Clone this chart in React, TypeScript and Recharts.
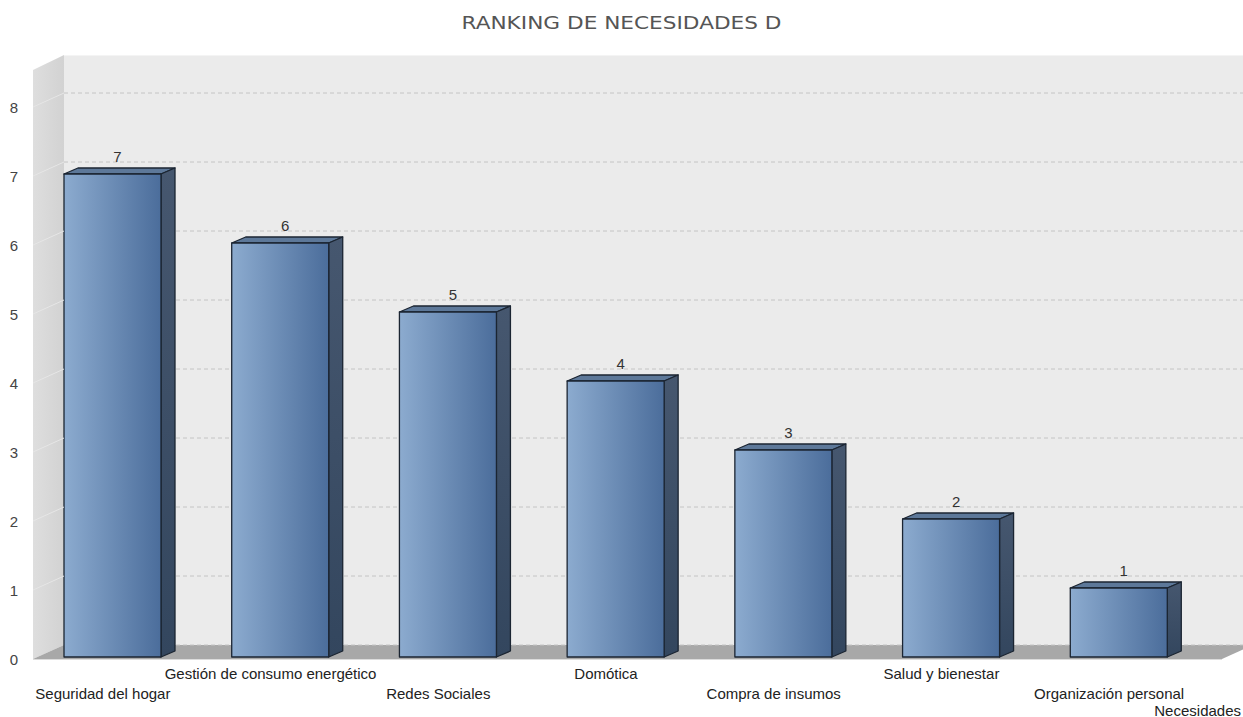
import { BarChart, Bar, XAxis, YAxis, CartesianGrid, LabelList } from "recharts";

const categories = [
  "Seguridad del hogar",
  "Gestión de consumo energético",
  "Redes Sociales",
  "Domótica",
  "Compra de insumos",
  "Salud y bienestar",
  "Organización personal",
];
const ranking = [7, 6, 5, 4, 3, 2, 1];
const yTicks = [0, 1, 2, 3, 4, 5, 6, 7, 8];

const data = categories.map((name, i) => ({ name, value: ranking[i] }));

// layout
const W = 1243;
const H = 717;
const PLOT_LEFT = 29;
const PLOT_RIGHT = 1203;
const PLOT_TOP = 105;
const PLOT_BOTTOM = 657;
const X_AXIS_H = 40;
const FRONT_X = 33; // front edge of the left wall / floor
const DX = 31; // depth of the walls
const DY = 14;
const BAR_DX = 14; // depth of each bar
const BAR_DY = 6;
const FONT = "'Liberation Sans', Arial, sans-serif";

function Walls() {
  const floorFront = PLOT_BOTTOM + 2;
  const floorBack = floorFront - DY;
  const wallTopFront = 70;
  const wallTopBack = wallTopFront - 15;
  const backX = FRONT_X + DX;
  return (
    <svg width={W} height={H} style={{ position: "absolute", left: 0, top: 0 }}>
      <defs>
        <linearGradient id="sideWall" x1="0" y1="0" x2="1" y2="0">
          <stop offset="0%" stopColor="#dedede" />
          <stop offset="100%" stopColor="#d2d2d2" />
        </linearGradient>
      </defs>
      <rect x={backX} y={wallTopBack} width={W - backX} height={floorBack - wallTopBack} fill="#ebebeb" />
      <line x1={backX} x2={W} y1={wallTopBack + 0.5} y2={wallTopBack + 0.5} stroke="#f4f4f4" />
      <polygon
        points={`${FRONT_X},${wallTopFront} ${backX},${wallTopBack} ${backX},${floorBack} ${FRONT_X},${floorFront}`}
        fill="url(#sideWall)"
      />
      <polygon
        points={`${FRONT_X},${floorFront} ${backX},${floorBack} ${W + 10},${floorBack} ${1222},${floorFront}`}
        fill="#a8a8a8"
      />
      <line x1={FRONT_X} x2={1222} y1={floorFront + 0.5} y2={floorFront + 0.5} stroke="#dcdcdc" />
    </svg>
  );
}

function Bar3D(props: any) {
  const { x, y, width, height } = props;
  if (!height) return null;
  const r = x + width;
  const b = y + height;
  return (
    <g stroke="#1b2532" strokeWidth={1.3} strokeLinejoin="round">
      <polygon
        points={`${x},${y} ${x + BAR_DX},${y - BAR_DY} ${r + BAR_DX},${y - BAR_DY} ${r},${y}`}
        fill="#5d7899"
      />
      <polygon
        points={`${r},${y} ${r + BAR_DX},${y - BAR_DY} ${r + BAR_DX},${b - BAR_DY} ${r},${b}`}
        fill="url(#barSide)"
      />
      <rect x={x} y={y} width={width} height={height} fill="url(#barFront)" />
    </g>
  );
}

function YTick(props: any) {
  const { y, payload } = props;
  const ly = y + 2;
  return (
    <g>
      {payload.value > 0 && (
        <line x1={FRONT_X} y1={ly} x2={FRONT_X + DX} y2={ly - DY} stroke="#e6e6e6" strokeWidth={1} />
      )}
      <text x={18} y={ly} textAnchor="end" dominantBaseline="central" fontSize={15} fill="#444" fontFamily={FONT}>
        {payload.value}
      </text>
    </g>
  );
}

function XTick(props: any) {
  const { x, payload, index } = props;
  const ly = index % 2 === 0 ? PLOT_BOTTOM + 36 : PLOT_BOTTOM + 16;
  return (
    <text x={x - 10} y={ly} textAnchor="middle" dominantBaseline="central" fontSize={15} fill="#222" fontFamily={FONT}>
      {payload.value}
    </text>
  );
}

function GridLine(props: any) {
  const { y1 } = props;
  return (
    <line
      x1={FRONT_X + DX}
      x2={W}
      y1={y1 + 2 - DY}
      y2={y1 + 2 - DY}
      stroke="#c4c4c4"
      strokeDasharray="4 3"
    />
  );
}

function ValueLabel(props: any) {
  const { x, y, width, value } = props;
  return (
    <text x={x + width / 2 + 5} y={y - 18} textAnchor="middle" dominantBaseline="central" fontSize={15} fill="#333" fontFamily={FONT}>
      {value}
    </text>
  );
}

export default function App() {
  return (
    <div style={{ position: "absolute", left: 0, top: 0, width: W, height: H, background: "#fff" }}>
      <Walls />
      <div style={{ position: "absolute", left: 0, top: 0 }}>
        <BarChart
          width={W}
          height={H}
          data={data}
          margin={{ top: PLOT_TOP, right: W - PLOT_RIGHT, bottom: H - PLOT_BOTTOM - X_AXIS_H, left: 0 }}
        >
          <defs>
            <linearGradient id="barFront" x1="0" y1="0" x2="1" y2="0">
              <stop offset="0%" stopColor="#8cabcf" />
              <stop offset="100%" stopColor="#4b6d9b" />
            </linearGradient>
            <linearGradient id="barSide" x1="0" y1="0" x2="0" y2="1">
              <stop offset="0%" stopColor="#46576f" />
              <stop offset="100%" stopColor="#33465e" />
            </linearGradient>
          </defs>
          <text
            x={W / 2}
            y={22}
            textAnchor="middle"
            dominantBaseline="central"
            fontSize={18}
            fill="#555"
            fontFamily="'DejaVu Sans', sans-serif"
            textLength={320}
            lengthAdjust="spacingAndGlyphs"
          >
            RANKING DE NECESIDADES D
          </text>
          <CartesianGrid vertical={false} horizontal={GridLine} />
          <XAxis
            dataKey="name"
            height={X_AXIS_H}
            axisLine={false}
            tickLine={false}
            interval={0}
            tick={XTick}
          />
          <YAxis
            width={PLOT_LEFT}
            domain={[0, 8]}
            ticks={yTicks}
            axisLine={false}
            tickLine={false}
            tick={YTick}
          />
          <Bar dataKey="value" barSize={97} shape={Bar3D} isAnimationActive={false}>
            <LabelList dataKey="value" content={ValueLabel} />
          </Bar>
          <text x={1241} y={710} textAnchor="end" dominantBaseline="central" fontSize={15} fill="#222" fontFamily={FONT}>
            Necesidades
          </text>
        </BarChart>
      </div>
    </div>
  );
}
